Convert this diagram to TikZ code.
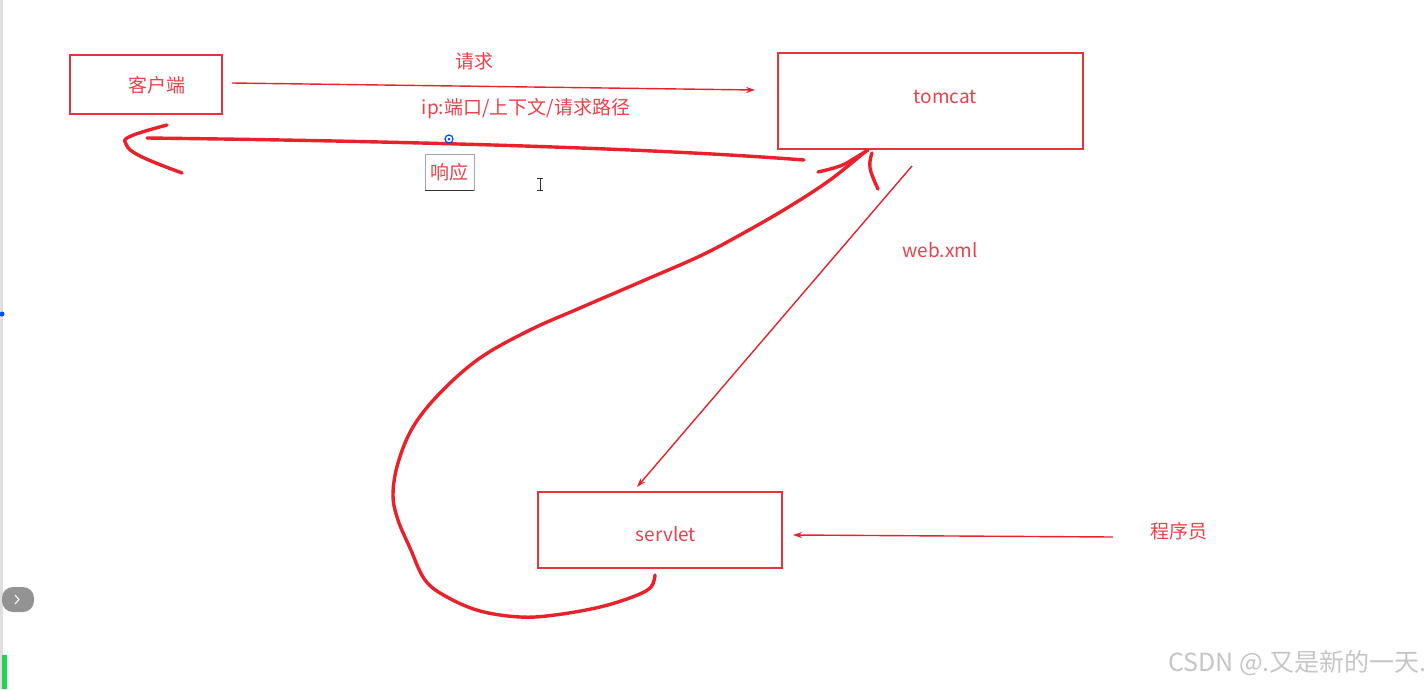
\documentclass[tikz,border=0pt]{standalone}
\usepackage{fontspec}
\setmainfont{Noto Sans CJK SC}
\usetikzlibrary{calc}
\usetikzlibrary{positioning}
\usetikzlibrary{arrows.meta}
\definecolor{penred}{HTML}{E8212B}
\definecolor{boxred}{HTML}{E8333C}
\definecolor{txtred}{HTML}{E9424B}

\begin{document}
\begin{tikzpicture}[x=1pt, y=-1pt,
    box/.style={draw=boxred, line width=1.6pt, inner sep=0pt},
    lbl/.style={font=\fontsize{19}{22}\selectfont, text=txtred, inner sep=0pt},
    thinarrow/.style={draw=penred, line width=1.4pt, -{Stealth[length=9pt, width=6pt]}},
    pen/.style={draw=penred, line width=3.4pt, line cap=round, line join=round}]
            % Page
            \useasboundingbox[fill=white] (0,0) rectangle (1428,689);
            \fill[gray!25] (0,0) rectangle (3,689);
            \fill[blue!70!cyan] (2,314) circle (2.5);
            \fill[gray!85, rounded corners=11pt] (2,587) rectangle (34,612);
            \draw[white, line width=1pt] (15,595) -- (19,599.5) -- (15,604);
            \fill[green!60!teal!85] (2,655) rectangle (7,689);
            
            % Boxes
            \node[box, minimum width=152pt, minimum height=59pt, label={[lbl, xshift=11pt, yshift=-1pt]center:客户端}] (client) at (146,84.5) {};
            \node[box, minimum width=305pt, minimum height=96pt, label={[lbl, xshift=15pt, yshift=4pt]center:tomcat}] (tomcat) at (930.5,101) {};
            \node[box, minimum width=244pt, minimum height=76pt, label={[lbl, xshift=6pt, yshift=-4pt]center:servlet}] (servlet) at (660,530) {};
            
            % Request
            \coordinate (reqstart) at (232,83);
            \coordinate (reqend) at (755,90);
            \draw[thinarrow] (reqstart) -- (reqend);
            \node[lbl] (reqlbl) at (474,61) {请求};
            \node[lbl] (pathlbl) at (526,109) {ip:端口/上下文/请求路径};
            
            % Response
            \coordinate (respstart) at (804,160);
            \coordinate (respend) at (147,138);
            \draw[pen] (respstart) .. controls (650,148) and (400,141) .. (respend);
            \draw[pen] plot[smooth, tension=0.7] coordinates {(167,125) (131,136) (126,144) (140,156) (182,173)};
            \node[draw=gray!70, line width=0.8pt, lbl, minimum width=49pt, minimum height=36pt] (resplbl) at (449.5,172) {响应};
            \draw[black!80, line width=1pt] (resplbl.south west) -- (resplbl.south east);
            \draw[blue!70!cyan, line width=1.2pt] (449,139) circle (4);
            \fill[blue!70!cyan] (449,139) circle (1.5);
            \draw[black!80, line width=1pt] (537,178) -- (543,178) (540,178) -- (540,190) (537,190) -- (543,190);
            
            % Servlet back to tomcat
            \coordinate (loopstart) at (655,575);
            \coordinate (loopend) at (866,151);
            \draw[pen] plot[smooth, tension=0.6] coordinates {(loopstart) (651,587) (635,596) (600,607) (555,615) (520,617) (480,611) (447,597) (425,580) (410,548) (398,520) (393,495) (398,463) (413,427) (440,393) (480,358) (530,330) (580,308) (645,280) (700,256) (740,235) (787,208) (830,180) (loopend)};
            \draw[pen] plot[smooth, tension=0.7] coordinates {(818,172) (840,166) (855,158) (868,150)};
            \draw[pen] plot[smooth, tension=0.7] coordinates {(872,153) (870,168) (878,189)};
            
            % web.xml
            \coordinate (webstart) at (912,166);
            \coordinate (webend) at (637,487);
            \draw[thinarrow] (webstart) -- (webend);
            \node[lbl] (weblbl) at (940,250) {web.xml};
            
            % Programmer
            \node[lbl] (dev) at (1179,531) {程序员};
            \coordinate (devstart) at (1113,537);
            \coordinate (devend) at (793,535);
            \draw[thinarrow] (devstart) -- (devend);
            
            % Watermark
            \node[font=\fontsize{25}{28}\selectfont, text=gray!45, anchor=east, inner sep=0pt] (mark) at (1427,663) {CSDN @.又是新的一天.};
            
        \end{tikzpicture}
\end{document}
